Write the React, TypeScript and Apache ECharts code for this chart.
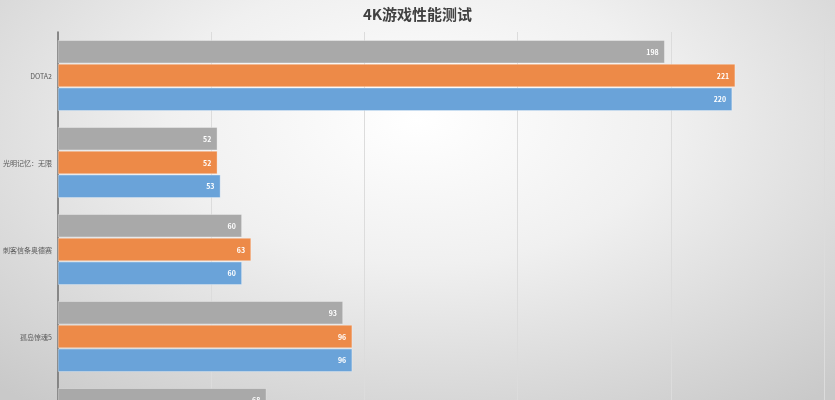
import { useRef, useEffect } from 'react'
import * as echarts from 'echarts'

const games = ['DOTA2', '光明记忆：无限', '刺客信条奥德赛', '孤岛惊魂5', '古墓丽影：暗影']
const grayValues = [198, 52, 60, 93, 68]
const orangeValues = [221, 52, 63, 96, 70]
const blueValues = [220, 53, 60, 96, 69]
const seriesNames = ['配置一', '配置二', '配置三']

function App() {
  const chartRef = useRef<HTMLDivElement>(null);

  useEffect(() => {
    if (!chartRef.current) return;
    const myChart = echarts.init(chartRef.current, null, { renderer: 'svg' });

    const label = {
      show: true,
      position: 'insideRight',
      distance: 6,
      color: '#ffffff',
      fontSize: 7,
      fontWeight: 'bold',
      fontFamily: 'Noto Sans CJK SC'
    };
    const makeBar = (name: string, data: number[], color: string) => ({
      name,
      type: 'bar',
      data,
      barGap: '4%',
      barCategoryGap: '19%',
      label,
      itemStyle: { color, borderColor: 'rgba(255,255,255,0.6)', borderWidth: 0.5 }
    });

    const option = {
      animation: false,
      backgroundColor: new echarts.graphic.RadialGradient(0.5, 0.25, 0.75, [
        { offset: 0, color: '#ffffff' },
        { offset: 0.4, color: '#f0f0f0' },
        { offset: 1, color: '#c9c9c9' }
      ]),
      title: {
        text: '4K游戏性能测试',
        left: 'center',
        top: 1,
        textStyle: {
          fontSize: 15,
          fontWeight: 'bold',
          color: '#404040',
          fontFamily: 'Noto Sans CJK SC'
        }
      },
      grid: { left: 58, right: 11, top: 32, bottom: 13 },
      xAxis: {
        type: 'value',
        min: 0,
        max: 250,
        interval: 50,
        axisLabel: { show: false },
        axisLine: { show: false },
        axisTick: { show: false },
        splitLine: { lineStyle: { color: '#dcdcdc', width: 1 } }
      },
      yAxis: {
        type: 'category',
        data: games,
        inverse: true,
        axisLine: { lineStyle: { color: '#6b6b6b', width: 1.5 } },
        axisTick: { show: false },
        axisLabel: {
          fontSize: 7,
          color: '#595959',
          margin: 6,
          fontFamily: 'Noto Sans CJK SC'
        }
      },
      series: [
        makeBar(seriesNames[0], grayValues, '#a9a9a9'),
        makeBar(seriesNames[1], orangeValues, '#ed8a48'),
        makeBar(seriesNames[2], blueValues, '#6aa3d9')
      ]
    };
    myChart.setOption(option);

    return () => {
      myChart.dispose();
    };
  }, []);

  return (
    <div style={{ position: 'fixed', top: 0, left: 0, width: '835px', height: '400px', overflow: 'hidden' }}>
      <div ref={chartRef} style={{ width: '835px', height: '480px' }}></div>
    </div>
  )
}

export default App
